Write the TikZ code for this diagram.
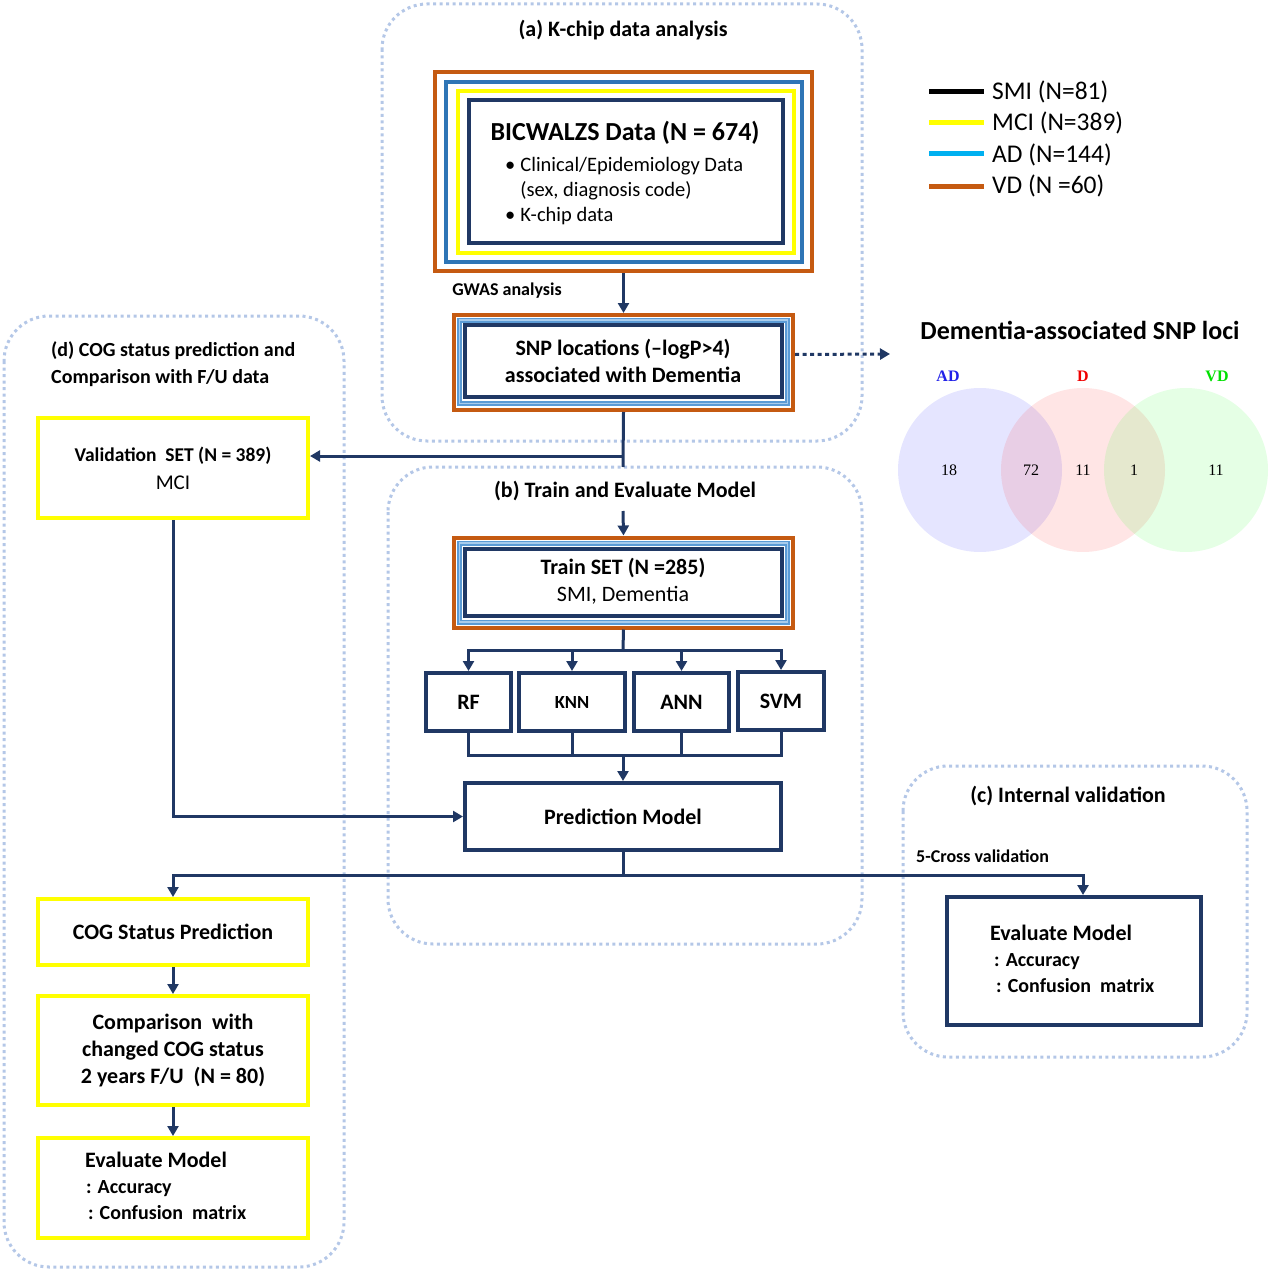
\documentclass[tikz,border=0pt]{standalone}
\usepackage{fontspec}
\setmainfont{Carlito}
\newfontfamily\tnr{Liberation Serif}
\usetikzlibrary{arrows.meta}
\definecolor{navy}{HTML}{203864}
\definecolor{orng}{HTML}{C55A11}
\definecolor{blu}{HTML}{2E75B6}
\definecolor{lblu}{HTML}{5B9BD5}
\definecolor{llblu}{HTML}{A9CCEC}
\definecolor{cyanl}{HTML}{00B0F0}
\definecolor{yel}{HTML}{FFFF00}
\definecolor{panelc}{HTML}{B4C7E7}
\definecolor{adblue}{HTML}{2020E8}
\definecolor{dred}{HTML}{F00000}
\definecolor{vdgreen}{HTML}{00E000}
\begin{document}
\begin{tikzpicture}[x=1pt,y=-1pt,
  panel/.style={draw=panelc,line width=3pt,dash pattern=on 3pt off 3.5pt,rounded corners=45pt},
  conn/.style={draw=navy,line width=3pt},
  arr/.style={conn,-{Triangle[width=11pt,length=10pt]}},
  boxn/.style={draw=navy,line width=4pt,inner sep=0pt,align=center},
  boxy/.style={draw=yel,line width=4pt,inner sep=0pt,align=center},
  boxo/.style={draw=orng,line width=4pt,inner sep=0pt},
  fr/.style={line width=4pt},
  txt/.style={inner sep=0pt},
  bf22/.style={font=\fontsize{22}{27}\selectfont\bfseries},
  lg/.style={txt,anchor=west,font=\fontsize{25.5}{28}\selectfont},
  num/.style={txt,font=\tnr\fontsize{16}{18}\selectfont},
  vlab/.style={txt,font=\tnr\fontsize{16}{18}\selectfont\bfseries}
]
\useasboundingbox (0,0) rectangle (1272,1271);
% panels
\draw[panel] (382,4) rectangle (862,441);
\draw[panel] (388,467) rectangle (862,944);
\draw[panel] (4,316) rectangle (344,1267);
\draw[panel] (903,766) rectangle (1247,1057);
% titles
\node[txt,bf22] (ta) at (623,30) {(a) K-chip data analysis};
\node[txt,bf22] (tb) at (625,491) {(b) Train and Evaluate Model};
\node[txt,font=\fontsize{20}{27}\selectfont\bfseries,align=left,anchor=west] (td) at (51,364) {(d) COG status prediction and\\Comparison with F/U data};
\node[txt,bf22] (tc) at (1068,796) {(c) Internal validation};
% BICWALZS
\node[boxo,minimum width=377pt,minimum height=199pt] (bic) at (623.5,171.5) {};
\draw[blu,fr] (446,82) rectangle (802,262);
\draw[yel,fr] (458,91) rectangle (794,253);
\draw[navy,fr] (469,100) rectangle (783,243);
\node[txt,font=\fontsize{26}{30}\selectfont\bfseries] (bict) at (625,133) {BICWALZS Data (N = 674)};
\node[txt,anchor=west,font=\fontsize{20.5}{25}\selectfont] (bicl) at (505,191) {\begin{tabular}{@{}l@{\hspace{5pt}}l@{}}•&Clinical/Epidemiology Data\\&(sex, diagnosis code)\\•&K-chip data\end{tabular}};
% SNP
\node[boxo,minimum width=339pt,minimum height=95pt] (snp) at (623.5,362.5) {};
\draw[lblu,line width=5pt] (459.5,320) rectangle (787.5,403.5);
\draw[llblu,line width=1.5pt] (459.5,320) rectangle (787.5,403.5);
\draw[navy,fr] (465,325) rectangle (782,397);
\node[txt,bf22,align=center] (snpt) at (623,361) {SNP locations (–logP>4)\\associated with Dementia};
\draw[arr] (bic.south) -- (snp.north);
\node[txt,font=\fontsize{18}{22}\selectfont\bfseries] (gw) at (507,291) {GWAS analysis};
% dotted arrow to venn
\coordinate (vtip) at (890,354);
\draw[navy,line width=3pt,dash pattern=on 4pt off 3.5pt,-{Triangle[width=11pt,length=10pt]}] ([yshift=8pt]snp.east) -- (vtip);
% validation
\node[boxy,minimum width=270pt,minimum height=100pt,font=\fontsize{19.5}{28}\selectfont] (val) at (173,468) {{\bfseries Validation\ \ SET (N = 389)}\\\fontsize{21}{28}\selectfont MCI};
% train
\node[boxo,minimum width=339pt,minimum height=90pt] (train) at (623.5,582.5) {};
\draw[lblu,line width=5pt] (459.5,543) rectangle (787.5,622);
\draw[llblu,line width=1.5pt] (459.5,543) rectangle (787.5,622);
\draw[navy,fr] (465,549) rectangle (782,616);
\node[txt,bf22,align=center] (traint) at (623,581.5) {Train SET (N =285)\\\mdseries SMI, Dementia};
% links
\coordinate (j1) at (623,467);
\draw[conn] (snp.south) -- (j1);
\coordinate (j2) at (623,456);
\draw[arr] (j2) -- (j2 -| val.east);
\coordinate (j3) at (623,511);
\draw[arr] (j3) -- (train.north);
% models
\node[boxn,minimum width=85pt,minimum height=58pt,bf22] (rf) at (468.5,702) {RF};
\node[boxn,minimum width=106pt,minimum height=58pt,font=\fontsize{18.5}{22}\selectfont\bfseries] (knn) at (572,702) {KNN};
\node[boxn,minimum width=95pt,minimum height=58pt,bf22] (ann) at (681.5,702) {ANN};
\node[boxn,minimum width=86pt,minimum height=58pt,bf22] (svm) at (781,701) {SVM};
\coordinate (br) at (623,650);
\draw[conn] (train.south) -- (br);
\draw[arr] (br) -| (rf.north);
\draw[arr] (br) -| (knn.north);
\draw[arr] (br) -| (ann.north);
\draw[arr] (br) -| (svm.north);
\coordinate (mg) at (623,755);
\draw[conn] (rf.south) |- (mg);
\draw[conn] (knn.south) |- (mg);
\draw[conn] (ann.south) |- (mg);
\draw[conn] (svm.south) |- (mg);
% prediction
\node[boxn,minimum width=316pt,minimum height=67pt,bf22] (pred) at (623,816.5) {Prediction Model};
\draw[arr] (mg) -- (pred.north);
\draw[arr] (val.south) |- (pred.west);
% left column
\node[boxy,minimum width=270pt,minimum height=66pt,bf22] (cog) at (173,932) {COG Status Prediction};
\node[boxy,minimum width=270pt,minimum height=109pt,bf22] (cmp) at (173,1050.5) {Comparison\ \ with\\changed COG status\\2 years F/U\ \ (N = 80)};
\node[boxy,minimum width=270pt,minimum height=100pt] (evl) at (173,1188) {};
\node[txt,anchor=west,font=\fontsize{20}{26}\selectfont\bfseries] (evlt) at (85,1188) {\begin{tabular}{@{}l@{}}{\fontsize{22}{27}\selectfont Evaluate Model}\\\hspace{1pt}: Accuracy\\\hspace{3pt}: Confusion\ \ matrix\end{tabular}};
\draw[arr] (cog.south) -- (cmp.north);
\draw[arr] (cmp.south) -- (evl.north);
% right eval
\node[boxn,minimum width=254pt,minimum height=128pt] (evr) at (1074,961) {};
\node[txt,anchor=west,font=\fontsize{20}{26}\selectfont\bfseries] (evrt) at (990,961.5) {\begin{tabular}{@{}l@{}}{\fontsize{22}{27}\selectfont Evaluate Model}\\\hspace{4pt}: Accuracy\\\hspace{6pt}: Confusion\ \ matrix\end{tabular}};
\node[txt,anchor=west,font=\fontsize{18}{22}\selectfont\bfseries] (cv) at (916,856) {5-Cross validation};
% bottom links
\coordinate (sp) at (623,875);
\coordinate (ev) at (1083,875);
\draw[conn] (pred.south) -- (sp);
\draw[arr] (sp) -| (cog.north);
\draw[arr] (sp) -- (ev) -- (ev |- evr.north);
% legend
\draw[black,line width=5pt] (929,92) -- (984,92);
\draw[yel,line width=5pt] (929,123) -- (984,123);
\draw[cyanl,line width=5pt] (929,154) -- (984,154);
\draw[orng,line width=5pt] (929,186) -- (984,186);
\node[lg] (l1) at (992,92) {SMI (N=81)};
\node[lg] (l2) at (992,123) {MCI (N=389)};
\node[lg] (l3) at (992,155) {AD (N=144)};
\node[lg] (l4) at (992,186) {VD (N =60)};
% venn
\node[txt,font=\fontsize{26}{30}\selectfont\bfseries] (vt) at (1080,330) {Dementia-associated SNP loci};
\node[circle,inner sep=0pt,minimum size=164pt,fill=blue,fill opacity=0.1] (cad) at (980,470) {};
\node[circle,inner sep=0pt,minimum size=164pt,fill=red,fill opacity=0.1] (cd) at (1083,470) {};
\node[circle,inner sep=0pt,minimum size=164pt,fill=green,fill opacity=0.1] (cvd) at (1186,470) {};
\node[vlab,text=adblue] (lad) at (948,376) {AD};
\node[vlab,text=dred] (ld) at (1083,376) {D};
\node[vlab,text=vdgreen] (lvd) at (1217,376) {VD};
\node[num] (n1) at (949,470) {18};
\node[num] (n2) at (1031,470) {72};
\node[num] (n3) at (1083,470) {11};
\node[num] (n4) at (1134,470) {1};
\node[num] (n5) at (1216,470) {11};
\end{tikzpicture}
\end{document}
